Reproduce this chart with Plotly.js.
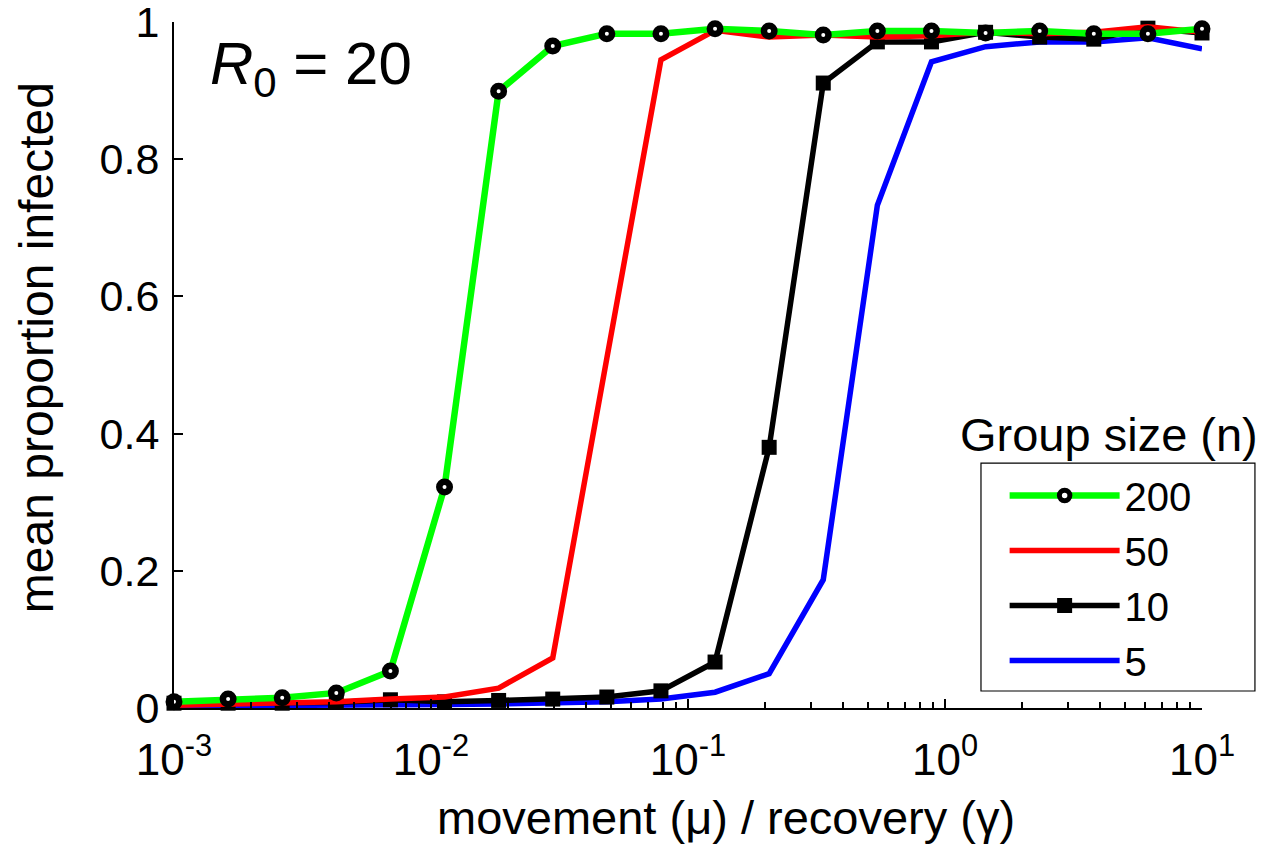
<!DOCTYPE html>
<html>
<head>
<meta charset="utf-8">
<script src="https://cdn.plot.ly/plotly-3.0.1.min.js"></script>
<style>html,body{margin:0;padding:0;background:#fff;}#chart{width:1264px;height:845px;}</style>
</head>
<body>
<div id="chart"></div>
<script>
// movement / recovery ratio (sample points, log-spaced from 1e-3 to 1e1)
const ratio = [0.001, 0.0016238, 0.0026367, 0.0042813, 0.0069519, 0.011288, 0.018330, 0.029764, 0.048329, 0.078476,
               0.12743, 0.20691, 0.33598, 0.54556, 0.88587, 1.4384, 2.3357, 3.7927, 6.1585, 10];

// mean proportion infected, by group size n
const n200 = [0.009, 0.013, 0.015, 0.022, 0.054, 0.322, 0.899, 0.965, 0.983, 0.983,
              0.990, 0.987, 0.981, 0.987, 0.987, 0.984, 0.987, 0.983, 0.983, 0.990];
const n50  = [0.004, 0.005, 0.006, 0.009, 0.013, 0.016, 0.029, 0.073, 0.510, 0.945,
              0.988, 0.978, 0.981, 0.978, 0.980, 0.985, 0.983, 0.985, 0.993, 0.985];
const n10  = [0.007, 0.007, 0.007, 0.008, 0.012, 0.009, 0.011, 0.013, 0.016, 0.025,
              0.067, 0.380, 0.911, 0.971, 0.971, 0.985, 0.978, 0.975, 0.991, 0.984];
const n5   = [0.003, 0.003, 0.004, 0.004, 0.005, 0.005, 0.006, 0.007, 0.009, 0.013,
              0.023, 0.050, 0.187, 0.733, 0.942, 0.964, 0.971, 0.971, 0.977, 0.961];

const seriesNames = ['200', '50', '10', '5'];

const xTickVals = [0.001, 0.01, 0.1, 1, 10];
const xTickText = ['10<sup>-3</sup>', '10<sup>-2</sup>', '10<sup>-1</sup>', '10<sup>0</sup>', '10<sup>1</sup>'];
const yTickVals = [0, 0.2, 0.4, 0.6, 0.8, 1];
const yTickText = ['0', '0.2', '0.4', '0.6', '0.8', '1'];

const xTitle = 'movement (μ) / recovery (γ)';
const yTitle = 'mean proportion infected';
const legendTitle = 'Group size (n)';
const panelLabel = '<i>R</i><sub>0</sub> = 20';

// minor tick positions (2..9 within each decade)
const minorVals = [];
[0.001, 0.01, 0.1, 1].forEach(d => { for (let k = 2; k <= 9; k++) minorVals.push(d * k); });

const FONT = 'Liberation Sans, Arial, sans-serif';

const traces = [
  {x: ratio, y: n5, name: seriesNames[3], mode: 'lines', cliponaxis: false,
   line: {color: '#0000ff', width: 5.5}},
  {x: ratio, y: n10, name: seriesNames[2], mode: 'lines+markers', cliponaxis: false,
   line: {color: '#000000', width: 5.5},
   marker: {symbol: 'square', size: 15, color: '#000000'}},
  {x: ratio, y: n50, name: seriesNames[1], mode: 'lines', cliponaxis: false,
   line: {color: '#ff0000', width: 5.5}},
  {x: ratio, y: n200, name: seriesNames[0], mode: 'lines+markers', cliponaxis: false,
   line: {color: '#00ff00', width: 6.5},
   marker: {symbol: 'circle', size: 10.5, color: '#ffffff', line: {color: '#000000', width: 6.5}}}
];

const layout = {
  width: 1264, height: 845,
  margin: {l: 174, r: 62, t: 22, b: 137},
  paper_bgcolor: '#ffffff', plot_bgcolor: '#ffffff',
  font: {family: FONT, size: 44, color: '#000'},
  showlegend: true,
  legend: {
    x: 0.808, y: 0.357, xanchor: 'left', yanchor: 'top',
    traceorder: 'reversed',
    bgcolor: 'rgba(255,255,255,0)', borderwidth: 0,
    font: {family: FONT, size: 40, color: '#000'},
    itemwidth: 110
  },
  // legend frame (wider than Plotly's auto-sized legend box)
  shapes: [
    {type: 'rect', xref: 'paper', yref: 'paper', layer: 'above',
     x0: 0.785, x1: 1.0515, y0: 0.0248, y1: 0.357,
     fillcolor: '#ffffff', line: {color: '#000000', width: 1.2}}
  ],
  xaxis: {
    type: 'log', range: [-3, 1],
    tickmode: 'array', tickvals: xTickVals, ticktext: xTickText,
    ticks: 'inside', ticklen: 9, tickwidth: 2, tickcolor: '#000',
    minor: {tickmode: 'array', tickvals: minorVals, ticks: 'inside', ticklen: 6, tickwidth: 2, tickcolor: '#000'},
    showline: true, linewidth: 2, linecolor: '#000',
    showgrid: false, zeroline: false,
    tickfont: {family: FONT, size: 44, color: '#000'},
    ticklabelstandoff: 12,
    ticklabeloverflow: 'allow'
  },
  yaxis: {
    range: [0, 1],
    tickmode: 'array', tickvals: yTickVals, ticktext: yTickText,
    ticks: 'inside', ticklen: 9, tickwidth: 2, tickcolor: '#000',
    showline: true, linewidth: 2, linecolor: '#000',
    showgrid: false, zeroline: false,
    tickfont: {family: FONT, size: 43, color: '#000'},
    ticklabelstandoff: 4,
    ticklabeloverflow: 'allow'
  },
  annotations: [
    {xref: 'paper', yref: 'paper', x: 0.033, y: 0.933, xanchor: 'left', yanchor: 'middle', showarrow: false,
     text: panelLabel, font: {family: FONT, size: 60, color: '#000'}},
    {xref: 'paper', yref: 'paper', x: 1.0565, y: 0.398, xanchor: 'right', yanchor: 'middle', showarrow: false,
     text: legendTitle, font: {family: FONT, size: 47, color: '#000'}},
    {xref: 'paper', yref: 'paper', x: 0.537, y: -0.160, xanchor: 'center', yanchor: 'middle', showarrow: false,
     text: xTitle, font: {family: FONT, size: 47, color: '#000'}},
    {xref: 'paper', yref: 'paper', x: -0.133, y: 0.525, xanchor: 'center', yanchor: 'middle', showarrow: false,
     textangle: -90, text: yTitle, font: {family: FONT, size: 48, color: '#000'}}
  ]
};

Plotly.newPlot('chart', traces, layout, {displayModeBar: false, staticPlot: true});
</script>
</body>
</html>
